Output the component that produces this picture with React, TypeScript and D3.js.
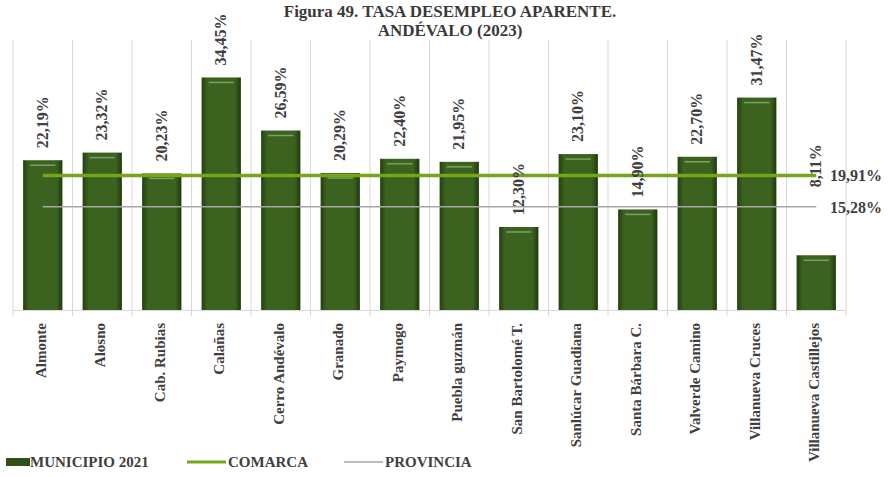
import { useEffect, useRef } from "react"
import * as d3 from "d3"

const categories = [
  "Almonte",
  "Alosno",
  "Cab. Rubias",
  "Calañas",
  "Cerro Andévalo",
  "Granado",
  "Paymogo",
  "Puebla guzmán",
  "San Bartolomé T.",
  "Sanlúcar Guadiana",
  "Santa Bárbara C.",
  "Valverde Camino",
  "Villanueva Cruces",
  "Villanueva Castillejos",
]

const municipio = [22.19, 23.32, 20.23, 34.45, 26.59, 20.29, 22.4, 21.95, 12.3, 23.1, 14.9, 22.7, 31.47, 8.11]

const comarca = 19.91
const provincia = 15.28

const legendItems = ["MUNICIPIO 2021", "COMARCA", "PROVINCIA"]

const fmt = (v: number) => v.toFixed(2).replace(".", ",") + "%"

const App = () => {
  const svgRef = useRef<SVGSVGElement | null>(null)

  useEffect(() => {
    if (!svgRef.current) return
    const svg = d3.select(svgRef.current)
    svg.selectAll("*").remove()

    const width = 889
    const height = 477
    const margin = { top: 40, right: 43, bottom: 167, left: 13 }
    const innerWidth = width - margin.left - margin.right
    const innerHeight = height - margin.top - margin.bottom
    const font = "'Liberation Serif', 'DejaVu Serif', serif"

    const x = d3
      .scaleBand()
      .domain(categories)
      .range([margin.left, margin.left + innerWidth])
      .paddingInner(0.34)
      .paddingOuter(0.17)
    const step = x.step()
    const x0 = margin.left

    const y = d3
      .scaleLinear()
      .domain([0, 40])
      .range([margin.top + innerHeight, margin.top])

    const defs = svg.append("defs")
    const grad = defs.append("linearGradient").attr("id", "barGrad").attr("x1", 0).attr("x2", 1).attr("y1", 0).attr("y2", 0)
    grad.append("stop").attr("offset", "0%").attr("stop-color", "#23400f")
    grad.append("stop").attr("offset", "15%").attr("stop-color", "#3b621f")
    grad.append("stop").attr("offset", "85%").attr("stop-color", "#3b621f")
    grad.append("stop").attr("offset", "100%").attr("stop-color", "#1f380c")

    const blur = defs.append("filter").attr("id", "glow").attr("x", "-5%").attr("y", "-200%").attr("width", "110%").attr("height", "500%")
    blur.append("feGaussianBlur").attr("stdDeviation", 1.5)

    // Title
    const title = svg.append("text")
      .attr("text-anchor", "middle")
      .attr("font-family", font)
      .attr("font-weight", "bold")
      .attr("font-size", 17)
      .attr("fill", "#3a3a3a")
    title.append("tspan").attr("x", 450).attr("y", 17).text("Figura 49. TASA DESEMPLEO APARENTE.")
    title.append("tspan").attr("x", 450).attr("y", 36).text("ANDÉVALO (2023)")

    // Vertical grid lines at category boundaries
    const bounds = d3.range(categories.length + 1).map((i) => x0 + i * step)
    svg.append("g")
      .selectAll("line")
      .data(bounds)
      .join("line")
      .attr("x1", (d) => d)
      .attr("x2", (d) => d)
      .attr("y1", y(40))
      .attr("y2", y(0) + 6)
      .attr("stroke", "#d9d9d9")
      .attr("stroke-width", 1)

    // Baseline
    svg.append("line")
      .attr("x1", x0)
      .attr("x2", x0 + innerWidth)
      .attr("y1", y(0) + 0.5)
      .attr("y2", y(0) + 0.5)
      .attr("stroke", "#d9d9d9")

    // Bars
    const bars = svg.append("g")
    bars.selectAll("rect")
      .data(municipio)
      .join("rect")
      .attr("x", (_, i) => x(categories[i])!)
      .attr("y", (d) => y(d))
      .attr("width", x.bandwidth())
      .attr("height", (d) => y(0) - y(d))
      .attr("fill", "url(#barGrad)")
    bars.selectAll("line")
      .data(municipio)
      .join("line")
      .attr("x1", (_, i) => x(categories[i])! + 7)
      .attr("x2", (_, i) => x(categories[i])! + x.bandwidth() - 7)
      .attr("y1", (d) => y(d) + 5)
      .attr("y2", (d) => y(d) + 5)
      .attr("stroke", "#8fae74")
      .attr("stroke-width", 1.5)
      .attr("opacity", 0.8)

    // Reference lines
    const cx0 = x(categories[0])! + x.bandwidth() / 2
    const cx1 = x(categories[categories.length - 1])! + x.bandwidth() / 2
    svg.append("line")
      .attr("x1", cx0).attr("x2", cx1)
      .attr("y1", y(provincia)).attr("y2", y(provincia))
      .attr("stroke", "#a6a6a6")
      .attr("stroke-width", 1.5)
    svg.append("line")
      .attr("x1", cx0).attr("x2", cx1)
      .attr("y1", y(comarca)).attr("y2", y(comarca))
      .attr("stroke", "#c9e86a")
      .attr("stroke-width", 7)
      .attr("filter", "url(#glow)")
    svg.append("line")
      .attr("x1", cx0).attr("x2", cx1)
      .attr("y1", y(comarca)).attr("y2", y(comarca))
      .attr("stroke", "#74a51a")
      .attr("stroke-width", 3.5)

    // Value labels (rotated); the last one was moved up in the original
    const labelAt = municipio.map((v, i) => (i === municipio.length - 1 ? 16.4 : v))
    svg.append("g")
      .selectAll("text")
      .data(municipio)
      .join("text")
      .attr("transform", (_, i) => `translate(${x(categories[i])! + x.bandwidth() / 2 + 5},${y(labelAt[i]) - 12}) rotate(-90)`)
      .attr("text-anchor", "start")
      .attr("font-family", font)
      .attr("font-weight", "bold")
      .attr("font-size", 16)
      .attr("fill", "#404040")
      .text((d) => fmt(d))

    // Reference line labels
    svg.append("text")
      .attr("x", 830).attr("y", y(comarca) + 5)
      .attr("font-family", font).attr("font-weight", "bold").attr("font-size", 16)
      .attr("fill", "#404040")
      .text(fmt(comarca))
    svg.append("text")
      .attr("x", 830).attr("y", y(provincia) + 6)
      .attr("font-family", font).attr("font-weight", "bold").attr("font-size", 16)
      .attr("fill", "#404040")
      .text(fmt(provincia))

    // Category labels
    svg.append("g")
      .selectAll("text")
      .data(categories)
      .join("text")
      .attr("transform", (d) => `translate(${x(d)! + x.bandwidth() / 2 + 3},${y(0) + 13}) rotate(-90)`)
      .attr("text-anchor", "end")
      .attr("font-family", font)
      .attr("font-weight", "bold")
      .attr("font-size", 15)
      .attr("fill", "#404040")
      .text((d) => d)

    // Legend
    const ly = 462
    const legend = svg.append("g").attr("font-family", font).attr("font-weight", "bold").attr("font-size", 15).attr("fill", "#404040")
    legend.append("rect").attr("x", 6).attr("y", ly - 4).attr("width", 24).attr("height", 8).attr("fill", "#2f5119")
    legend.append("text").attr("x", 30).attr("y", ly + 5).text(legendItems[0])
    legend.append("line").attr("x1", 187).attr("x2", 226).attr("y1", ly).attr("y2", ly).attr("stroke", "#d7ee8a").attr("stroke-width", 6).attr("filter", "url(#glow)")
    legend.append("line").attr("x1", 187).attr("x2", 226).attr("y1", ly).attr("y2", ly).attr("stroke", "#74a51a").attr("stroke-width", 3)
    legend.append("text").attr("x", 228).attr("y", ly + 5).text(legendItems[1])
    legend.append("line").attr("x1", 344).attr("x2", 383).attr("y1", ly).attr("y2", ly).attr("stroke", "#a6a6a6").attr("stroke-width", 1.5)
    legend.append("text").attr("x", 385).attr("y", ly + 5).text(legendItems[2])
  }, [])

  return (
    <div style={{ position: "fixed", left: 0, top: 0, width: 889, height: 477 }}>
      <svg ref={svgRef} width={889} height={477} style={{ display: "block", background: "#fff" }} />
    </div>
  )
}

export default App
